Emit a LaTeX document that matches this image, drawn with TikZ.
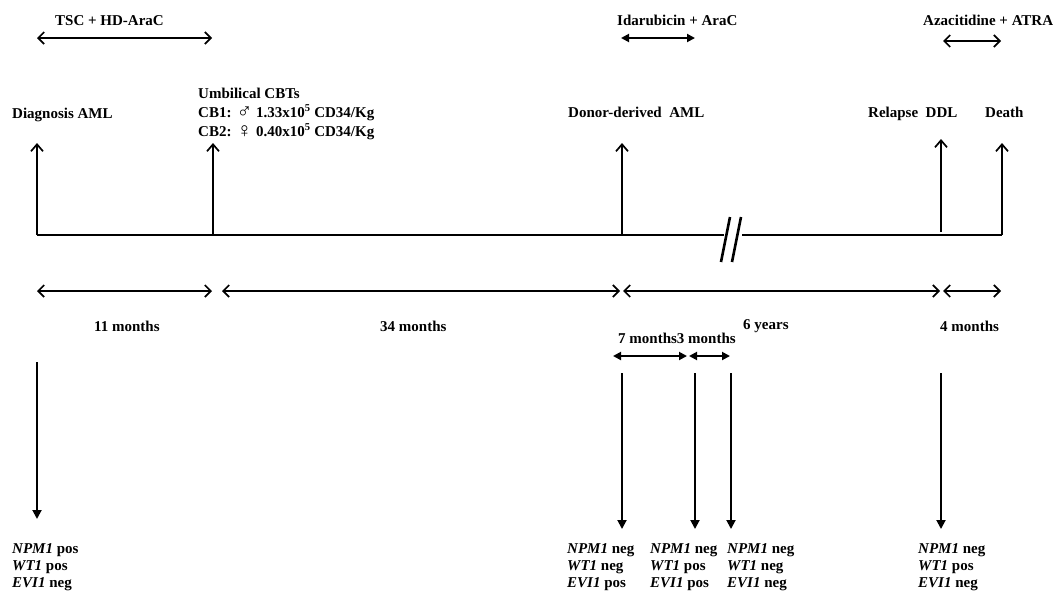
\documentclass[tikz,border=0pt]{standalone}
\usepackage{fontspec}
\setmainfont{Liberation Serif}
\usetikzlibrary{arrows.meta}
\newcommand{\bigsym}[1]{{\mdseries\fontsize{21}{17}\selectfont\raisebox{-1pt}{#1}}}
\tikzset{
  lbl/.style={inner sep=0pt, anchor=base west, font=\fontsize{15}{17}\selectfont\bfseries},
  openarr/.style={line width=1.7pt, -{Straight Barb[length=7pt,width=12pt,line width=1.7pt]}},
  openboth/.style={line width=1.6pt, {Straight Barb[length=6pt,width=12pt,line width=1.7pt]}-{Straight Barb[length=6pt,width=12pt,line width=1.7pt]}},
  fillboth/.style={line width=1.9pt, {Triangle[length=8pt,width=8pt]}-{Triangle[length=8pt,width=8pt]}},
  fillarr/.style={line width=1.9pt, -{Triangle[length=9pt,width=9pt]}},
  axis/.style={line width=2.6pt},
}
\begin{document}
\begin{tikzpicture}[x=1pt,y=-1pt]
\useasboundingbox (0,0) rectangle (1059,592);
% timeline points
\coordinate (p1) at (37,235);
\coordinate (p2) at (213,235);
\coordinate (p3) at (622,235);
\coordinate (p4) at (941,235);
\coordinate (p5) at (1002,235);
\coordinate (b1) at (724,235);
\coordinate (b2) at (742,235);
% main line with break
\draw[axis] (p1) -- (b1);
\draw[axis] (b2) -- (p5);
\coordinate (s1a) at (730,217); \coordinate (s1b) at (721,262);
\coordinate (s2a) at (741,217); \coordinate (s2b) at (732,262);
\draw[line width=2.6pt] (s1a) -- (s1b);
\draw[line width=2.6pt] (s2a) -- (s2b);
% up arrows
\coordinate (u1) at (37,143);
\coordinate (u2) at (213,143);
\coordinate (u3) at (622,143);
\coordinate (u4) at (941,139);
\coordinate (u5) at (1002,143);
\coordinate (p4b) at (941,232);
\draw[openarr] (p1) -- (u1);
\draw[openarr] (p2) -- (u2);
\draw[openarr] (p3) -- (u3);
\draw[openarr] (p4b) -- (u4);
\draw[openarr] (p5) -- (u5);
% event labels
\node[lbl] (diag) at (12,118) {Diagnosis AML};
\node[lbl] (umb) at (198,98) {Umbilical CBTs};
\node[lbl] (cb1) at (198,117) {CB1: \bigsym{♂} 1.33x10\textsuperscript{5} CD34/Kg};
\node[lbl] (cb2) at (198,136) {CB2: \bigsym{♀} 0.40x10\textsuperscript{5} CD34/Kg};
\node[lbl] (donor) at (568,117) {Donor-derived\ \ AML};
\node[lbl] (relapse) at (868,117) {Relapse\ \ DDL};
\node[lbl] (death) at (985,117) {Death};
% treatments
\node[lbl] (tsc) at (55,25) {TSC + HD-AraC};
\coordinate (t1a) at (37,38); \coordinate (t1b) at (212,38);
\draw[openboth] (t1a) -- (t1b);
\node[lbl] (ida) at (617,25) {Idarubicin + AraC};
\coordinate (t2a) at (621,38); \coordinate (t2b) at (695,38);
\draw[fillboth] (t2a) -- (t2b);
\node[lbl] (aza) at (923,25) {Azacitidine + ATRA};
\coordinate (t3a) at (943,41); \coordinate (t3b) at (1001,41);
\draw[openboth] (t3a) -- (t3b);
% durations
\coordinate (d1a) at (37,291); \coordinate (d1b) at (212,291);
\coordinate (d2a) at (222,291); \coordinate (d2b) at (620,291);
\coordinate (d3a) at (623,291); \coordinate (d3b) at (940,291);
\coordinate (d4a) at (943,291); \coordinate (d4b) at (1001,291);
\draw[openboth] (d1a) -- (d1b);
\draw[openboth] (d2a) -- (d2b);
\draw[openboth] (d3a) -- (d3b);
\draw[openboth] (d4a) -- (d4b);
\node[lbl] (m11) at (94,331) {11 months};
\node[lbl] (m34) at (380,331) {34 months};
\node[lbl] (y6) at (743,329) {6 years};
\node[lbl] (m4) at (940,331) {4 months};
\node[lbl] (m73) at (618,343) {7 months3 months};
\coordinate (e1a) at (613,356); \coordinate (e1b) at (687,356);
\coordinate (e2a) at (689,356); \coordinate (e2b) at (730,356);
\draw[fillboth] (e1a) -- (e1b);
\draw[fillboth] (e2a) -- (e2b);
% down arrows
\coordinate (q1) at (37,362); \coordinate (r1) at (37,519);
\coordinate (q2) at (622,373); \coordinate (r2) at (622,529);
\coordinate (q3) at (695,373); \coordinate (r3) at (695,529);
\coordinate (q4) at (731,373); \coordinate (r4) at (731,529);
\coordinate (q5) at (941,373); \coordinate (r5) at (941,529);
\draw[fillarr] (q1) -- (r1);
\draw[fillarr] (q2) -- (r2);
\draw[fillarr] (q3) -- (r3);
\draw[fillarr] (q4) -- (r4);
\draw[fillarr] (q5) -- (r5);
% marker results
\node[lbl] (a1) at (12,553) {\textit{NPM1} pos};
\node[lbl] (a2) at (12,570) {\textit{WT1} pos};
\node[lbl] (a3) at (12,587) {\textit{EVI1} neg};
\node[lbl] (b1t) at (567,553) {\textit{NPM1} neg};
\node[lbl] (b2t) at (567,570) {\textit{WT1} neg};
\node[lbl] (b3t) at (567,587) {\textit{EVI1} pos};
\node[lbl] (c1t) at (650,553) {\textit{NPM1} neg};
\node[lbl] (c2t) at (650,570) {\textit{WT1} pos};
\node[lbl] (c3t) at (650,587) {\textit{EVI1} pos};
\node[lbl] (d1t) at (727,553) {\textit{NPM1} neg};
\node[lbl] (d2t) at (727,570) {\textit{WT1} neg};
\node[lbl] (d3t) at (727,587) {\textit{EVI1} neg};
\node[lbl] (f1t) at (918,553) {\textit{NPM1} neg};
\node[lbl] (f2t) at (918,570) {\textit{WT1} pos};
\node[lbl] (f3t) at (918,587) {\textit{EVI1} neg};
\end{tikzpicture}
\end{document}
